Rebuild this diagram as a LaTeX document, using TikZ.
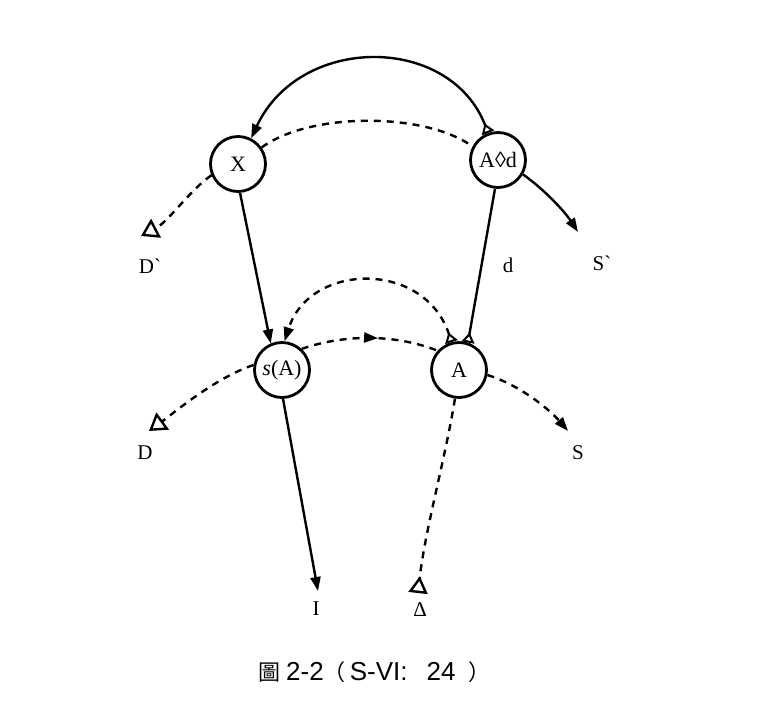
\documentclass[tikz,border=0pt]{standalone}
\usepackage{fontspec}
\setmainfont{Liberation Serif}
\newfontfamily\cjk{Noto Sans CJK TC}
\newfontfamily\capfont{Liberation Sans}
\usetikzlibrary{arrows.meta,decorations.markings}
\tikzset{
  >={Triangle[length=14pt,width=10pt]},
  src/.tip={Triangle[open,reversed,length=10pt,width=13pt,line width=2pt]},
  srcb/.tip={Triangle[open,reversed,length=17pt,width=19pt,line width=2.4pt]},
  sink/.tip={Triangle[open,length=17pt,width=21pt,line width=2.4pt]},
  st/.style={circle,draw,line width=2.8pt,minimum size=55pt,inner sep=0pt,font=\fontsize{22}{24}\selectfont},
  lbl/.style={inner sep=0pt,font=\fontsize{21}{24}\selectfont},
  sol/.style={line width=2.4pt},
  dsh/.style={line width=2.4pt,dash pattern=on 7pt off 6pt},
  midarrow/.style={postaction={decorate},decoration={markings,mark=at position 0.56 with {\arrow{Triangle[length=14pt,width=10pt]}}}}
}
\begin{document}
\begin{tikzpicture}[x=1pt,y=-1pt]
\useasboundingbox (0,0) rectangle (779,721);
\node[st] (X) at (238,164) {X};
\node[st] (Ad) at (498,160) {A◊d};
\node[st] (sA) at (282,370) {\textit{s}(A)};
\node[st] (A) at (459,370) {A};
\coordinate (Dp) at (141,236);
\coordinate (Dq) at (149,431);
\coordinate (Sp) at (578,232);
\coordinate (Sq) at (568,431);
\coordinate (Itip) at (318,591);
\coordinate (Dtri) at (418,593);
\node[lbl] (Dpl) at (150,266) {D\textasciigrave};
\node[lbl] (Dl) at (145,453) {D};
\node[lbl] (Spl) at (602,263) {S\textasciigrave};
\node[lbl] (Sl) at (578,453) {S};
\node[lbl] (Il) at (316,609) {I};
\node[lbl] (Deltal) at (420,610) {Δ};
\node[lbl] (dl) at (508,265) {d};
\draw[sol,src->] (Ad.110) .. controls (450,34) and (300,34) .. (X.63);
\draw[dsh] (X.35) .. controls (310,112) and (425,112) .. (Ad.152);
\draw[sol,->] (X.-86) -- (sA.113);
\draw[sol,src-] (A.72) -- (Ad.-96);
\draw[dsh,midarrow] (sA.47) .. controls (345,334) and (395,334) .. (A.138);
\draw[dsh,src->] (A.105) .. controls (425,260) and (310,262) .. (sA.85);
\draw[sol,->] (sA.-88) -- (Itip);
\draw[dsh,-srcb] (A.-98) .. controls (445,460) and (425,530) .. (Dtri);
\draw[dsh,-sink] (X.203) .. controls (190,190) and (168,222) .. (Dp);
\draw[dsh,-sink] (sA.170) .. controls (215,378) and (175,412) .. (Dq);
\draw[sol,->] (Ad.-30) .. controls (545,190) and (565,212) .. (Sp);
\draw[dsh,->] (A.-10) .. controls (520,385) and (550,410) .. (Sq);
\node[anchor=base west,inner sep=0pt,font=\capfont\fontsize{26}{28}\selectfont] (cap) at (258,680)
  {{\cjk\fontsize{22}{24}\selectfont 圖}\hspace{6pt}2-2{\cjk\fontsize{22}{24}\selectfont （}\hspace{4pt}S-VI:\hspace{19pt}24\hspace{13pt}{\cjk\fontsize{22}{24}\selectfont ）}};
\end{tikzpicture}
\end{document}
